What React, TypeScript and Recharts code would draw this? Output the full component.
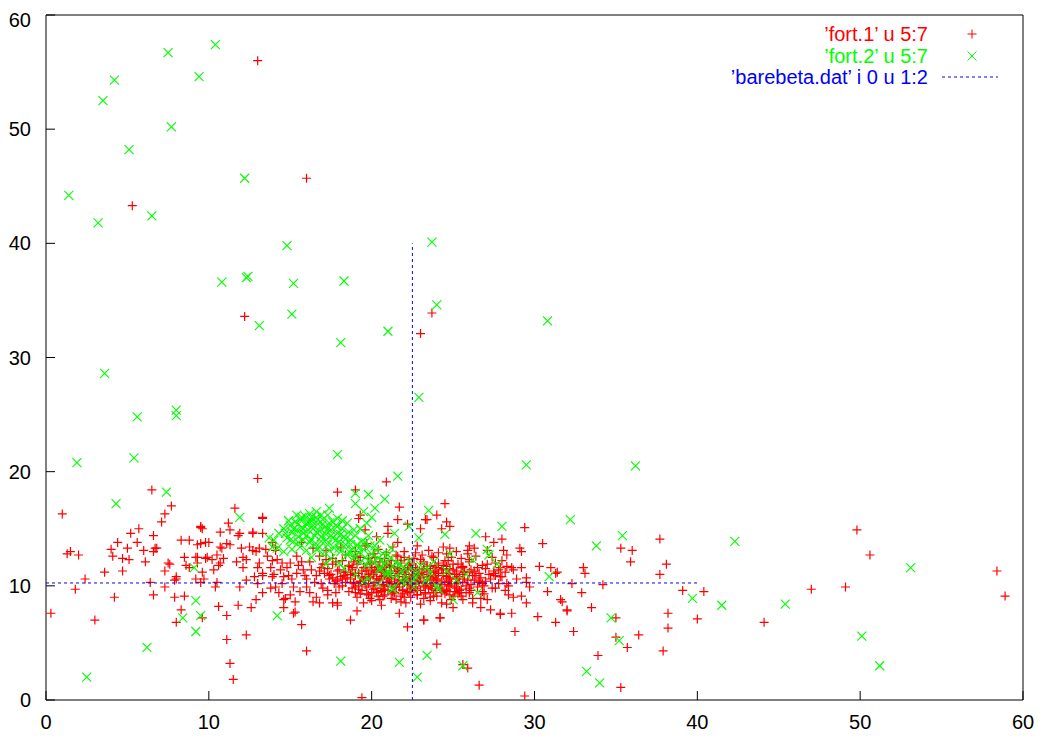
import { Scatter, ScatterChart, XAxis, YAxis } from 'recharts';

type Pt = [number, number];

const xTicks = [0, 10, 20, 30, 40, 50, 60];
const yTicks = [0, 10, 20, 30, 40, 50, 60];

const legendLabels = ['\u2019fort.1\u2019 u 5:7', '\u2019fort.2\u2019 u 5:7', '\u2019barebeta.dat\u2019 i 0 u 1:2'];

// fort.1 u 5:7 (red +)
const redOutliers: Pt[] = [
  [13.0, 56.0], [16.0, 45.7], [5.3, 43.3], [12.2, 33.6], [23.7, 33.9], [23.0, 32.1], [13.0, 19.4],
  [6.5, 18.4], [17.9, 18.2], [19.0, 18.4], [20.9, 19.1], [44.1, 6.8], [47.0, 9.7], [49.1, 9.9],
  [49.8, 14.9], [50.6, 12.7], [58.4, 11.3], [58.9, 9.1], [19.4, 0.2], [29.4, 0.35], [26.6, 1.3],
  [25.9, 2.8], [25.6, 3.1], [24.0, 4.9], [16.0, 4.3], [11.5, 1.8], [11.3, 3.2], [11.1, 5.3],
  [12.3, 5.7], [35.3, 1.1], [33.9, 3.9], [37.9, 4.3], [35.7, 4.6], [36.4, 5.7], [35.0, 5.5],
];

const redLeft: Pt[] = [
  [1.0, 16.3], [7.7, 17.0], [7.3, 16.3], [7.1, 15.6], [11.6, 16.8], [11.2, 15.5], [11.3, 14.9],
  [11.9, 14.6], [13.3, 15.9], [13.3, 14.6], [12.7, 14.6], [10.7, 14.7], [9.5, 15.1], [9.6, 15.0],
  [8.8, 14.0], [8.3, 14.0], [6.6, 14.4], [5.7, 15.0], [5.2, 14.6], [5.6, 13.8], [4.4, 13.8],
  [4.0, 13.2], [5.0, 13.3], [6.0, 13.1], [6.8, 13.3], [6.6, 13.0], [1.5, 13.0], [1.3, 12.8],
  [2.0, 12.7], [4.1, 12.6], [4.7, 12.4], [5.1, 12.3], [6.1, 12.1], [3.6, 11.2], [4.7, 11.3],
  [2.4, 10.6], [1.8, 9.7], [4.2, 9.0], [0.3, 7.6], [3.0, 7.0], [6.4, 10.3], [6.6, 9.2],
  [7.3, 9.9], [7.3, 11.3], [7.6, 11.9], [7.9, 9.0], [8.0, 10.6], [8.5, 9.1], [8.3, 7.9],
  [8.0, 6.8], [8.5, 12.5], [8.6, 11.8], [9.3, 12.5], [9.3, 12.0], [9.9, 12.5], [10.3, 11.4],
  [10.4, 9.9], [9.7, 10.6], [9.2, 10.6], [10.6, 8.2], [11.1, 7.4], [9.6, 7.2], [11.8, 8.3],
  [12.6, 8.1], [12.9, 8.8], [11.9, 9.9], [12.3, 10.5], [11.7, 12.1], [12.1, 12.5], [12.0, 13.3],
  [12.7, 13.1], [11.3, 13.6], [10.8, 13.3], [10.0, 13.8], [10.2, 12.3], [10.7, 12.0], [10.5, 12.7],
  [9.3, 13.6], [6.7, 13.3], [7.5, 12.0], [8.0, 10.8], [7.9, 10.5], [9.5, 15.2], [11.8, 14.4],
  [12.7, 14.7], [13.3, 16.0], [9.5, 13.7], [9.8, 13.8], [10.7, 13.4], [11.1, 13.7], [12.5, 13.4],
  [12.9, 13.0], [13.1, 13.3], [9.2, 12.5], [9.8, 12.4], [10.9, 12.4], [8.8, 11.6], [10.6, 11.8],
  [12.3, 12.3], [9.6, 11.2], [12.1, 11.6], [13.0, 11.6], [13.3, 10.9], [13.0, 10.2], [9.5, 10.3],
  [10.5, 10.3], [12.8, 10.8],
];

const redMid: Pt[] = [
  [13.5, 13.2], [14.1, 13.1], [13.1, 12.0], [13.3, 11.1], [13.8, 11.6], [13.9, 10.8], [14.4, 11.4],
  [13.8, 9.8], [14.7, 8.9], [15.3, 8.6], [15.3, 7.7], [15.7, 6.6], [18.7, 7.0], [13.9, 13.8],
  [14.1, 13.4], [14.6, 8.1], [16.4, 8.6], [16.8, 8.5], [17.9, 8.5], [14.6, 8.8], [14.1, 9.9],
  [14.6, 10.8], [15.0, 12.0], [15.5, 11.8], [15.8, 11.4], [16.0, 9.9], [15.6, 9.5], [16.2, 9.4],
  [17.3, 9.2], [17.6, 8.5], [14.2, 12.3], [14.8, 11.6], [15.1, 10.6], [15.4, 12.6], [15.9, 10.9],
  [16.2, 12.1], [16.5, 10.3], [16.8, 11.3], [17.0, 9.8], [16.4, 13.3], [15.7, 13.8], [14.5, 10.2],
  [13.6, 12.6], [13.3, 9.4], [14.0, 11.0], [15.0, 9.2], [16.6, 9.0], [17.4, 10.6], [17.8, 9.4],
  [19.3, 16.2], [19.2, 15.9], [21.6, 15.8], [21.0, 15.2], [22.2, 15.4], [23.0, 15.0], [23.3, 15.8],
  [19.6, 14.9], [21.0, 14.6], [20.3, 14.3], [21.6, 13.8], [19.7, 13.7], [21.7, 16.9], [21.7, 7.6],
  [22.2, 6.4], [23.2, 7.0], [19.1, 7.8], [17.9, 8.3], [24.2, 7.2], [15.2, 7.6],
];

const redCore: Pt[] = [
  [17.2, 13.1], [18.1, 13.4], [19.0, 13.0], [19.6, 13.5], [20.4, 13.2], [21.3, 13.4], [22.0, 13.0],
  [22.8, 13.5], [23.5, 13.1], [24.4, 13.4], [25.2, 13.0], [26.3, 13.3], [27.1, 13.1],
  [16.8, 12.6], [17.6, 12.4], [18.4, 12.7], [19.3, 12.5], [20.1, 12.8], [20.8, 12.4], [21.6, 12.6],
  [22.3, 12.3], [23.1, 12.7], [23.8, 12.5], [24.6, 12.8], [25.5, 12.4], [26.4, 12.6], [27.4, 12.5], [28.3, 12.7],
  [17.0, 11.9], [17.8, 12.1], [18.6, 11.8], [19.2, 12.2], [19.9, 11.9], [20.5, 12.1], [21.1, 11.8],
  [21.8, 12.2], [22.5, 11.9], [23.2, 12.1], [23.9, 11.8], [24.5, 12.2], [25.3, 11.9], [26.0, 12.1],
  [26.8, 11.8], [27.6, 12.0],
  [17.3, 11.5], [18.0, 11.4], [18.8, 11.6], [19.4, 11.3], [20.0, 11.6], [20.6, 11.4], [21.2, 11.7],
  [21.7, 11.3], [22.2, 11.6], [22.8, 11.4], [23.4, 11.7], [23.9, 11.3], [24.4, 11.5], [25.0, 11.4],
  [25.6, 11.6], [26.3, 11.3], [27.0, 11.5], [27.8, 11.4], [28.6, 11.6],
  [17.5, 11.0], [18.3, 10.9], [19.0, 11.1], [19.6, 10.8], [20.1, 11.0], [20.7, 11.2], [21.2, 10.9],
  [21.6, 11.1], [22.1, 10.8], [22.6, 11.0], [23.1, 11.2], [23.6, 10.9], [24.1, 11.1], [24.6, 10.8],
  [25.1, 11.0], [25.7, 11.2], [26.4, 10.9], [27.2, 11.0], [28.0, 10.8],
  [17.9, 10.5], [18.7, 10.6], [19.3, 10.4], [19.9, 10.7], [20.4, 10.5], [20.9, 10.3], [21.4, 10.6],
  [21.9, 10.4], [22.4, 10.6], [22.9, 10.3], [23.4, 10.5], [23.8, 10.7], [24.3, 10.4], [24.8, 10.6],
  [25.3, 10.3], [25.9, 10.5], [26.6, 10.4], [27.3, 10.6],
  [18.2, 10.0], [19.0, 9.9], [19.6, 10.1], [20.2, 9.8], [20.7, 10.0], [21.2, 10.2], [21.7, 9.9],
  [22.2, 10.1], [22.7, 9.8], [23.2, 10.0], [23.7, 10.2], [24.2, 9.9], [24.7, 10.1], [25.2, 9.8],
  [25.8, 10.0], [26.5, 9.9],
  [18.6, 9.5], [19.4, 9.6], [20.0, 9.4], [20.6, 9.6], [21.3, 9.5], [21.9, 9.3], [22.6, 9.6],
  [23.3, 9.4], [23.9, 9.6], [24.5, 9.3], [25.1, 9.5], [25.8, 9.4],
  [19.1, 9.0], [19.9, 8.9], [20.7, 9.1], [21.5, 8.8], [22.4, 9.0], [23.2, 8.9], [24.0, 9.1], [24.9, 8.8],
  [19.5, 8.5], [20.6, 8.3], [21.8, 8.6], [23.0, 8.4], [24.3, 8.5],
  [20.3, 11.3], [21.0, 10.7], [21.5, 10.1], [22.0, 11.4], [22.3, 10.3], [22.9, 10.9], [23.3, 10.2],
  [23.6, 11.5], [24.0, 10.5], [24.4, 11.8], [24.9, 10.2], [25.4, 10.8], [20.8, 9.7], [21.9, 9.6],
  [22.8, 9.2], [23.5, 9.8], [24.6, 9.7], [25.5, 9.1], [26.1, 9.6], [26.9, 9.3], [18.4, 11.2],
  [19.8, 12.4], [20.9, 12.9], [22.7, 12.9], [24.1, 12.9], [25.9, 12.8], [26.8, 10.2], [27.6, 10.9],
  [28.4, 10.0], [17.7, 10.2], [18.9, 10.3], [19.7, 9.3], [20.5, 8.8], [26.2, 8.9],
];

const redDense: Pt[] = [
  [18.6, 11.7], [19.1, 11.9], [19.5, 11.6], [20.0, 12.0], [20.4, 11.7], [20.9, 11.9], [21.4, 11.6],
  [21.8, 12.0], [22.3, 11.8], [22.7, 11.6], [23.2, 11.9], [23.6, 11.7], [24.1, 12.0], [24.6, 11.7],
  [25.0, 11.9], [25.5, 11.6],
  [18.3, 11.2], [18.8, 11.4], [19.2, 11.1], [19.7, 11.3], [20.2, 11.2], [20.6, 11.4], [21.1, 11.1],
  [21.5, 11.3], [22.0, 11.2], [22.5, 11.4], [22.9, 11.1], [23.4, 11.3], [23.8, 11.2], [24.3, 11.4],
  [24.7, 11.1], [25.2, 11.3], [25.7, 11.2], [26.1, 11.4],
  [18.1, 10.8], [18.5, 10.7], [19.0, 10.9], [19.4, 10.7], [19.9, 10.8], [20.3, 10.6], [20.8, 10.9],
  [21.2, 10.7], [21.7, 10.8], [22.1, 10.6], [22.6, 10.9], [23.0, 10.7], [23.5, 10.8], [23.9, 10.6],
  [24.4, 10.9], [24.8, 10.7], [25.3, 10.8], [25.7, 10.6], [26.2, 10.9], [26.7, 10.7],
  [18.4, 10.3], [18.9, 10.2], [19.3, 10.4], [19.8, 10.2], [20.2, 10.3], [20.7, 10.1], [21.1, 10.4],
  [21.6, 10.2], [22.0, 10.3], [22.5, 10.1], [22.9, 10.4], [23.4, 10.2], [23.8, 10.3], [24.3, 10.1],
  [24.7, 10.4], [25.2, 10.2], [25.6, 10.3], [26.1, 10.1], [26.6, 10.3],
  [18.8, 9.8], [19.2, 9.7], [19.7, 9.9], [20.1, 9.7], [20.6, 9.8], [21.0, 9.6], [21.5, 9.9],
  [21.9, 9.7], [22.4, 9.8], [22.8, 9.6], [23.3, 9.9], [23.7, 9.7], [24.2, 9.8], [24.6, 9.6],
  [25.1, 9.9], [25.5, 9.7], [26.0, 9.8],
  [19.3, 9.3], [19.8, 9.2], [20.3, 9.4], [20.8, 9.2], [21.3, 9.3], [21.8, 9.1], [22.3, 9.4],
  [22.8, 9.2], [23.3, 9.3], [23.8, 9.1], [24.3, 9.4], [24.8, 9.2], [25.3, 9.3],
  [17.6, 11.9], [17.9, 11.3], [17.4, 10.9], [17.8, 10.4], [18.0, 9.9], [18.2, 12.2], [17.2, 12.3],
  [16.9, 11.6], [16.6, 10.9], [16.9, 10.2], [17.3, 9.6], [16.3, 11.4], [16.0, 10.6], [15.7, 12.1],
  [15.4, 11.1], [15.2, 9.9], [14.9, 10.9], [14.5, 12.0], [13.9, 12.2], [14.3, 9.4],
  [19.0, 12.6], [20.2, 12.5], [21.5, 12.7], [22.6, 12.4], [23.7, 12.6], [24.9, 12.5], [26.0, 12.3],
  [26.5, 11.6], [27.1, 11.9], [27.0, 10.4], [27.4, 9.8], [26.8, 9.5], [27.8, 10.2], [28.2, 11.2],
  [28.9, 10.6], [29.2, 11.6], [20.0, 8.7], [21.2, 8.9], [22.1, 8.5], [23.6, 8.7], [24.6, 8.4],
  [25.6, 8.8],
];

const redPeak: Pt[] = [
  [20.1, 10.0], [20.5, 10.6], [20.9, 11.1], [21.3, 9.9], [21.7, 10.5], [22.1, 11.0], [22.4, 9.9],
  [22.8, 10.5], [23.2, 11.0], [23.6, 10.0], [24.0, 10.6], [24.4, 11.1], [24.8, 10.0], [25.2, 10.6],
  [25.6, 11.0], [19.5, 10.5], [19.8, 11.0], [20.6, 9.5], [21.4, 9.4], [22.2, 9.5], [23.0, 9.6],
  [23.8, 9.4], [24.6, 9.5], [25.4, 9.4], [20.0, 11.4], [20.8, 11.6], [21.6, 11.5], [22.4, 11.6],
  [23.2, 11.5], [24.0, 11.6], [24.8, 11.5], [25.6, 11.7], [19.2, 10.0], [18.7, 11.0], [26.3, 10.5],
  [26.0, 11.2], [26.6, 11.1], [21.0, 10.3], [22.7, 10.2], [24.5, 10.3], [23.9, 10.9], [22.3, 10.8],
  [20.6, 10.8], [19.6, 11.6], [21.2, 12.2], [23.0, 12.3], [24.7, 12.2], [20.4, 9.1], [22.0, 9.0],
  [23.6, 9.0], [25.0, 9.1], [19.0, 9.4], [18.2, 10.6], [17.1, 11.1], [17.6, 10.7], [26.9, 10.0],
  [27.5, 11.3], [28.0, 12.2], [18.9, 12.1], [22.0, 12.5],
];

const redRight: Pt[] = [
  [24.5, 17.2], [23.4, 15.8], [24.0, 16.2], [24.6, 15.6], [24.3, 15.0], [24.8, 15.2], [27.0, 14.3],
  [28.0, 14.1], [27.5, 13.8], [28.1, 13.1], [26.0, 13.5], [25.9, 13.1], [24.8, 13.3], [29.4, 15.1],
  [29.1, 13.3], [29.2, 13.0], [30.5, 13.7], [30.3, 11.7], [31.0, 11.6], [31.4, 11.2], [31.3, 11.1],
  [28.3, 11.7], [28.7, 11.4], [27.9, 11.6], [27.5, 11.1], [27.9, 10.8], [29.5, 10.7], [29.5, 10.3],
  [29.7, 9.9], [30.8, 9.5], [32.3, 10.2], [31.6, 8.8], [32.0, 7.9], [30.2, 7.3], [31.3, 6.8],
  [28.8, 6.0], [32.4, 6.0], [29.2, 9.1], [28.7, 9.0], [29.5, 8.5], [28.4, 9.2], [28.6, 7.6],
  [27.9, 7.6], [27.3, 7.9], [26.7, 8.1], [27.1, 8.8], [26.7, 8.9], [26.2, 8.5], [26.0, 9.4],
  [25.4, 9.6], [25.0, 8.1], [24.2, 7.2], [23.2, 7.0], [28.2, 9.6], [28.3, 10.2], [27.6, 9.8],
  [37.7, 14.1], [35.3, 13.3], [36.0, 13.1], [35.9, 12.1], [38.1, 11.9], [37.7, 11.0], [33.0, 11.6],
  [33.1, 11.1], [34.2, 10.1], [39.1, 9.6], [40.4, 9.5], [32.9, 9.4], [31.7, 8.6], [33.5, 8.1],
  [35.0, 7.2], [38.2, 7.6], [40.0, 7.1], [38.2, 6.3], [32.0, 7.8], [27.9, 7.5],
];

// fort.2 u 5:7 (green x)
const greenOutliers: Pt[] = [
  [7.5, 56.7], [10.4, 57.4], [4.2, 54.3], [9.4, 54.6], [3.5, 52.5], [7.7, 50.2], [5.1, 48.2],
  [12.2, 45.7], [1.4, 44.2], [3.2, 41.8], [6.5, 42.4], [14.8, 39.8], [10.8, 36.6], [12.3, 37.0],
  [12.4, 37.1], [15.2, 36.5], [18.3, 36.7], [15.1, 33.8], [13.1, 32.8], [18.1, 31.3], [3.6, 28.6],
  [5.6, 24.8], [8.0, 25.4], [8.0, 24.9], [1.9, 20.8], [5.4, 21.2], [17.9, 21.5], [21.0, 32.3],
  [23.7, 40.1], [24.0, 34.6], [30.8, 33.2], [22.9, 26.5], [29.5, 20.6], [36.2, 20.5], [32.2, 15.8],
  [35.4, 14.4], [33.8, 13.5], [42.3, 13.9], [53.1, 11.6], [39.7, 8.9], [41.5, 8.3], [45.4, 8.4],
  [34.7, 7.2], [35.2, 5.2], [33.2, 2.5], [34.0, 1.5], [50.1, 5.6], [51.2, 3.0], [7.4, 18.2],
  [4.3, 17.2], [11.9, 16.0], [9.1, 11.6], [9.2, 8.7], [9.5, 7.4], [8.4, 7.2], [9.2, 6.0],
  [6.2, 4.6], [2.5, 2.0], [14.2, 7.4], [18.1, 3.4], [21.7, 3.3], [23.4, 3.9], [22.8, 2.0],
  [25.6, 3.0], [21.6, 19.6], [19.0, 18.1], [19.8, 18.0], [20.8, 17.6], [19.0, 17.2], [17.4, 16.8],
  [20.2, 16.8], [19.5, 16.5], [20.0, 16.0], [23.5, 16.6], [26.4, 14.6], [28.0, 15.2], [24.5, 14.5],
  [27.1, 13.2], [27.2, 12.7], [27.7, 11.9], [22.3, 15.2], [22.9, 14.2], [21.4, 14.6], [26.5, 9.4],
  [30.9, 10.8], [24.1, 9.7], [25.0, 8.8], [21.3, 9.7], [19.5, 10.4], [22.6, 10.5], [23.4, 11.6],
  [20.5, 11.4], [21.1, 11.0], [14.2, 13.3],
];

const greenCluster: Pt[] = [
  [14.3, 14.6], [14.6, 15.0], [14.8, 14.2], [15.0, 15.3], [15.1, 14.7], [15.2, 13.9], [15.3, 15.6],
  [15.4, 14.9], [15.5, 14.3], [15.6, 15.8], [15.7, 15.1], [15.8, 14.6], [15.9, 16.1], [16.0, 15.4],
  [16.1, 14.9], [16.2, 16.3], [16.2, 13.8], [16.3, 15.7], [16.4, 15.0], [16.5, 14.4], [16.6, 16.0],
  [16.7, 15.4], [16.8, 14.8], [16.9, 13.9], [17.0, 15.8], [17.1, 15.1], [17.2, 14.5], [17.3, 13.6],
  [17.4, 15.5], [17.5, 14.9], [17.6, 14.2], [17.7, 13.3], [17.8, 15.3], [17.9, 14.6], [18.0, 13.9],
  [18.1, 13.0], [18.2, 15.0], [18.3, 14.3], [18.4, 13.6], [18.5, 12.7], [18.6, 14.7], [18.7, 14.0],
  [18.8, 13.2], [18.9, 12.4], [19.0, 14.4], [19.1, 13.6], [19.2, 12.9], [19.3, 12.1], [19.4, 13.9],
  [19.5, 13.2], [19.6, 12.5], [19.7, 11.8], [19.9, 13.5], [20.0, 12.8], [20.1, 12.1], [20.3, 13.1],
  [20.4, 12.4], [20.5, 11.6], [20.7, 12.8], [20.8, 12.0], [21.0, 11.3], [21.2, 12.4], [21.3, 11.7],
  [21.5, 10.9], [21.7, 11.9], [21.9, 11.2], [22.1, 10.6], [22.4, 11.5], [22.7, 10.8], [23.0, 11.8],
  [23.3, 10.4], [23.6, 11.2], [24.0, 10.0], [15.6, 13.4], [16.0, 13.1], [16.6, 13.2], [17.0, 12.8],
  [17.5, 12.4], [18.0, 12.0], [14.9, 15.7], [15.4, 16.2], [16.6, 16.5], [17.3, 16.2], [17.9, 15.9],
  [18.5, 15.5], [19.3, 15.0], [19.8, 14.4], [20.5, 14.0], [21.2, 13.3], [15.1, 13.2], [14.6, 13.0],
  [13.9, 13.4], [16.3, 12.5], [17.2, 11.9], [18.3, 11.5], [19.0, 11.0], [19.8, 10.6], [20.4, 10.2],
  [21.2, 9.8], [22.0, 10.2], [22.6, 9.9], [23.4, 10.6], [24.6, 11.3], [25.2, 10.5], [25.8, 11.0],
  [26.2, 12.3], [24.8, 12.8], [23.8, 12.1],
  [15.2, 15.0], [15.5, 15.4], [15.8, 15.0], [16.1, 15.6], [16.4, 15.3], [16.7, 15.8], [17.0, 15.4],
  [17.3, 15.0], [17.6, 15.6], [17.9, 15.2], [16.0, 14.4], [16.3, 14.1], [16.6, 14.7], [16.9, 14.3],
  [17.2, 14.0], [17.5, 14.4], [17.8, 14.0], [18.1, 14.5], [18.4, 14.1], [18.7, 13.6], [15.5, 13.8],
  [15.8, 14.0], [16.5, 13.6], [16.8, 13.4], [17.4, 13.1], [18.0, 13.3], [18.6, 13.0], [19.2, 13.3],
  [19.6, 13.8], [20.2, 13.5], [19.0, 12.6], [19.8, 12.2], [20.6, 12.2], [21.0, 12.7], [21.5, 12.0],
  [22.0, 11.6], [22.3, 12.2], [20.9, 11.0], [21.8, 10.5], [22.8, 11.2], [16.9, 16.2], [16.3, 16.0],
  [15.7, 16.0], [14.7, 14.6], [15.0, 14.0], [18.9, 14.9], [19.7, 15.5], [18.2, 15.7], [14.0, 14.0],
  [13.7, 14.2],
];

// 'barebeta.dat' i 0 u 1:2 (blue dashed)
const betaH: Pt[] = [[0, 10.25], [40, 10.25]];
const betaV: Pt[] = [[22.5, 0], [22.5, 40]];

const toObj = (arr: Pt[]) => arr.map(([x, y]) => ({ x, y }));

const redData = toObj([...redOutliers, ...redLeft, ...redMid, ...redCore, ...redDense, ...redPeak, ...redRight]);
const greenData = toObj([...greenOutliers, ...greenCluster]);

const RED = '#ff0000';
const GREEN = '#00ff00';
const BLUE = '#0000ff';
const FONT = '"Liberation Sans", Arial, Helvetica, sans-serif';

function Plus(props: any) {
  const { cx, cy } = props;
  return <path d={`M${cx - 4.5},${cy}h9M${cx},${cy - 4.5}v9`} stroke={RED} strokeWidth={1.2} fill="none" />;
}

function Cross(props: any) {
  const { cx, cy } = props;
  return (
    <path
      d={`M${cx - 4.5},${cy - 4.5}l9,9M${cx - 4.5},${cy + 4.5}l9,-9`}
      stroke={GREEN}
      strokeWidth={1.1}
      fill="none"
    />
  );
}

const NoShape = () => <g />;

const tickStyle = { fontSize: 20, fill: '#000', fontFamily: FONT };
const dashLine = { stroke: BLUE, strokeWidth: 1, strokeDasharray: '3 3' };

export default function App() {
  return (
    <div style={{ position: 'relative', width: 1028, height: 730 }}>
      <ScatterChart width={1028} height={730} margin={{ top: 6, right: 12, left: 8, bottom: 8 }}>
        <XAxis
          xAxisId="b"
          type="number"
          dataKey="x"
          domain={[0, 60]}
          ticks={xTicks}
          height={30}
          tick={tickStyle}
          tickSize={-9}
          tickMargin={24}
          stroke="#000"
          allowDataOverflow
        />
        <XAxis
          xAxisId="t"
          orientation="top"
          type="number"
          dataKey="x"
          domain={[0, 60]}
          ticks={xTicks}
          height={1}
          tick={false}
          tickSize={-9}
          stroke="#000"
          allowDataOverflow
        />
        <YAxis
          yAxisId="l"
          type="number"
          dataKey="y"
          domain={[0, 60]}
          ticks={yTicks}
          width={30}
          tick={tickStyle}
          tickSize={-9}
          tickMargin={24}
          stroke="#000"
          allowDataOverflow
        />
        <YAxis
          yAxisId="r"
          orientation="right"
          type="number"
          dataKey="y"
          domain={[0, 60]}
          ticks={yTicks}
          width={1}
          tick={false}
          tickSize={-9}
          stroke="#000"
          allowDataOverflow
        />
        <Scatter xAxisId="b" yAxisId="l" data={redData} shape={Plus} isAnimationActive={false} />
        <Scatter xAxisId="b" yAxisId="l" data={greenData} shape={Cross} isAnimationActive={false} />
        <Scatter
          xAxisId="t"
          yAxisId="r"
          data={toObj(betaH)}
          shape={NoShape}
          line={dashLine}
          isAnimationActive={false}
        />
        <Scatter
          xAxisId="b"
          yAxisId="l"
          data={toObj(betaV)}
          shape={NoShape}
          line={dashLine}
          isAnimationActive={false}
        />
      </ScatterChart>
      <svg
        width={1028}
        height={100}
        style={{ position: 'absolute', left: 0, top: 0, pointerEvents: 'none' }}
      >
        <text x={920} y={33} textAnchor="end" fontSize={20} fontFamily={FONT} fill={RED}>
          {legendLabels[0]}
        </text>
        <path d="M959.5,26h9M964,21.5v9" stroke={RED} strokeWidth={1} fill="none" />
        <text x={920} y={55} textAnchor="end" fontSize={20} fontFamily={FONT} fill={GREEN}>
          {legendLabels[1]}
        </text>
        <path d="M959.5,43.5l9,9M959.5,52.5l9,-9" stroke={GREEN} strokeWidth={1} fill="none" />
        <text x={920} y={76} textAnchor="end" fontSize={20} fontFamily={FONT} fill={BLUE}>
          {legendLabels[2]}
        </text>
        <line x1={934} y1={69} x2={990} y2={69} stroke={BLUE} strokeWidth={1} strokeDasharray="3 3" />
      </svg>
    </div>
  );
}
